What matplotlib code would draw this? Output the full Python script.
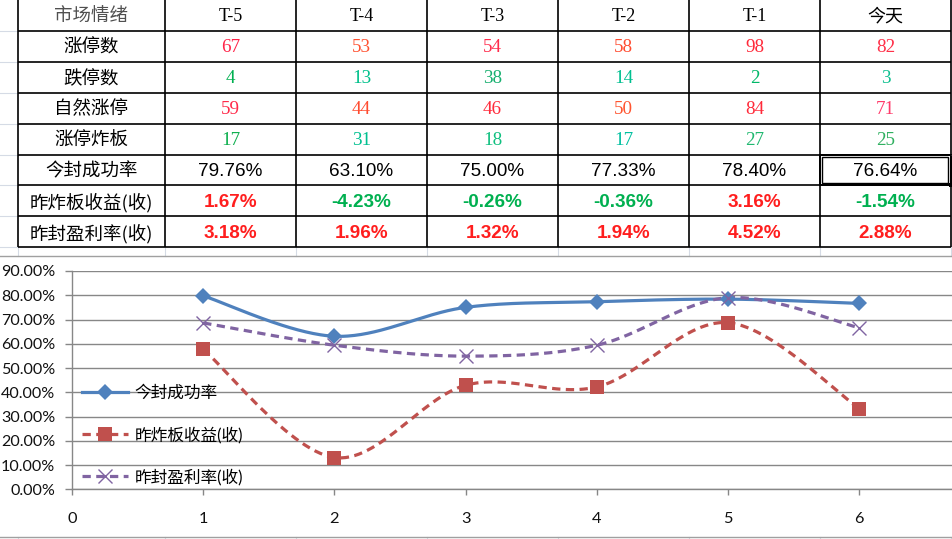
import numpy as np
import matplotlib
matplotlib.use("Agg")
import matplotlib.pyplot as plt
from matplotlib.patches import Rectangle
from matplotlib.lines import Line2D

# ---------------- data ----------------
corner_label = '市场情绪'
col_headers = ['T-5', 'T-4', 'T-3', 'T-2', 'T-1', '今天']
row_labels = ['涨停数', '跌停数', '自然涨停', '涨停炸板', '今封成功率', '昨炸板收益(收)', '昨封盈利率(收)']
limit_up = [67, 53, 54, 58, 98, 82]
limit_down = [4, 13, 38, 14, 2, 3]
natural_up = [59, 44, 46, 50, 84, 71]
broken_boards = [17, 31, 18, 17, 27, 25]
seal_rate = [79.76, 63.10, 75.00, 77.33, 78.40, 76.64]
broken_return = [1.67, -4.23, -0.26, -0.36, 3.16, -1.54]
seal_profit = [3.18, 1.96, 1.32, 1.94, 4.52, 2.88]

chart_x = [1, 2, 3, 4, 5, 6]
chart_seal_rate = [79.76, 63.10, 75.00, 77.33, 78.40, 76.64]
chart_broken_return = [57.7, 13.1, 42.9, 42.2, 68.7, 33.3]
chart_seal_profit = [68.6, 59.4, 54.9, 59.4, 79.0, 66.6]
series_names = ['今封成功率', '昨炸板收益(收)', '昨封盈利率(收)']
y_tick_values = [0, 10, 20, 30, 40, 50, 60, 70, 80, 90]
x_tick_values = [0, 1, 2, 3, 4, 5, 6]

# ---------------- styles ----------------
W, H = 953, 539
CJK = ['Noto Sans CJK SC', 'DejaVu Sans']
SERIF = ['Liberation Serif', 'Noto Sans CJK SC']
SANS = ['Liberation Sans', 'DejaVu Sans']
RED = '#ff1e1e'
GREEN = '#00b050'
red_shades_up = ['#ff2348', '#ff5232', '#ff2c4c', '#ff4c30', '#ff2a3a', '#ff3048']
red_shades_nat = ['#ff2a4a', '#ff4c30', '#ff2c3c', '#ff5530', '#ff2a3a', '#ff3a6a']
green_shades_down = ['#00b050', '#00c08a', '#18b070', '#00c090', '#00b868', '#10c090']
green_shades_brk = ['#10b050', '#00c090', '#10c080', '#00c0a0', '#20b870', '#30b060']

plt.rcParams['font.family'] = CJK

fig = plt.figure(figsize=(W / 100, H / 100), dpi=100)
bg = fig.add_axes([0, 0, 1, 1])
bg.set_xlim(0, W)
bg.set_ylim(H, 0)
bg.axis('off')

# table geometry
x0, label_w, col_w = 18, 147, 131
col_edges = [x0, x0 + label_w] + [x0 + label_w + col_w * (i + 1) for i in range(6)]
row_h = 30.9
row_edges = [row_h * i for i in range(9)]
table_bottom = row_edges[-1]

light = '#d5dbe5'
# spreadsheet faint gridlines
for y in row_edges[1:]:
    bg.plot([0, x0], [y, y], color=light, lw=0.8)
for xe in col_edges:
    bg.plot([xe, xe], [table_bottom, 256], color=light, lw=0.8)
    bg.plot([xe, xe], [537, H], color=light, lw=0.8)
bg.plot([950, W], [row_edges[5], row_edges[5]], color=light, lw=0.8)

# table grid
for y in row_edges[1:]:
    bg.plot([col_edges[0], col_edges[-1]], [y, y], color='black', lw=1.2, solid_capstyle='butt')
for xe in col_edges:
    bg.plot([xe, xe], [0, table_bottom], color='black', lw=1.2, solid_capstyle='butt')

# selection box around 今天 / 今封成功率
sx0, sx1 = col_edges[-2], col_edges[-1]
sy0, sy1 = row_edges[5], row_edges[6]
bg.add_patch(Rectangle((sx0, sy0), sx1 - sx0, sy1 - sy0, fill=False, ec='black', lw=1.4))
bg.add_patch(Rectangle((sx0 + 2.5, sy0 + 2.5), sx1 - sx0 - 5, sy1 - sy0 - 5, fill=False, ec='black', lw=1.0))
bg.add_patch(Rectangle((sx1 - 2, sy1 - 2), 4, 4, fc='black', ec='black', lw=0))

def cy(r):
    return (row_edges[r] + row_edges[r + 1]) / 2 + 1.5

label_cx = (col_edges[0] + col_edges[1]) / 2
col_cx = [(col_edges[i + 1] + col_edges[i + 2]) / 2 for i in range(6)]

# header
bg.text(label_cx, cy(0), corner_label, ha='center', va='center', fontsize=13.3,
        family=CJK, weight='light', color='#505050')
for i, h in enumerate(col_headers):
    bg.text(col_cx[i], cy(0), h, ha='center', va='center', fontsize=13,
            family=SERIF if h.startswith('T') else CJK, weight='light', color='black')

# row labels
for r, lab in enumerate(row_labels):
    bg.text(label_cx, cy(r + 1), lab, ha='center', va='center', fontsize=13.3,
            family=CJK, weight='light', color='black')

int_rows = [(limit_up, red_shades_up), (limit_down, green_shades_down),
            (natural_up, red_shades_nat), (broken_boards, green_shades_brk)]
for r, (vals, cols) in enumerate(int_rows):
    for i, v in enumerate(vals):
        bg.text(col_cx[i], cy(r + 1), f'{v}', ha='center', va='center', fontsize=13.8,
                family=SERIF, color=cols[i])

for i, v in enumerate(seal_rate):
    bg.text(col_cx[i], cy(5), f'{v:.2f}%', ha='center', va='center', fontsize=13.6,
            family=SANS, color='black')
for i, v in enumerate(broken_return):
    bg.text(col_cx[i], cy(6), f'{v:.2f}%', ha='center', va='center', fontsize=13.6,
            family=SANS, weight='bold', color=RED if v > 0 else GREEN)
for i, v in enumerate(seal_profit):
    bg.text(col_cx[i], cy(7), f'{v:.2f}%', ha='center', va='center', fontsize=13.6,
            family=SANS, weight='bold', color=RED if v > 0 else GREEN)

# chart frame
bg.plot([0, W], [256, 256], color='#a0a0a0', lw=1.0)
bg.plot([0, W], [537, 537], color='#a0a0a0', lw=1.0)

# ---------------- chart ----------------
px_left, px_bottom, px_top = 72, 489.3, 271
unit = 131.2
xmax = (W - px_left) / unit
ax = fig.add_axes([px_left / W, (H - px_bottom) / H, (W - px_left) / W, (px_bottom - px_top) / H])
ax.set_facecolor('none')
ax.set_xlim(0, xmax)
ax.set_ylim(0, 90)

grid_c = '#878787'
for spine in ['top', 'right']:
    ax.spines[spine].set_visible(False)
for spine in ['left', 'bottom']:
    ax.spines[spine].set_color(grid_c)
    ax.spines[spine].set_linewidth(1.0)
ax.yaxis.grid(True, color=grid_c, lw=1.0)
ax.set_axisbelow(True)
ax.set_yticks(y_tick_values)
ax.set_yticklabels([f'{v:.2f}%' for v in y_tick_values])
ax.set_xticks(x_tick_values)
ax.set_xticklabels([str(v) for v in x_tick_values])
ax.tick_params(axis='y', length=5, width=1.0, color=grid_c, pad=7, labelsize=11.6,
               labelcolor='#111111')
ax.tick_params(axis='x', length=4, width=1.0, color=grid_c, pad=12, labelsize=11.8,
               labelcolor='#111111')
for lab in ax.get_xticklabels() + ax.get_yticklabels():
    lab.set_family(['Lato', 'DejaVu Sans'])


def smooth(xs, ys, n=60):
    P = np.column_stack([xs, ys]).astype(float)
    ext = np.vstack([P[0], P, P[-1]])
    out = []
    for i in range(len(P) - 1):
        p0, p1, p2, p3 = ext[i], ext[i + 1], ext[i + 2], ext[i + 3]
        b1 = p1 + (p2 - p0) / 6
        b2 = p2 - (p3 - p1) / 6
        t = np.linspace(0, 1, n)[:, None]
        seg = ((1 - t) ** 3) * p1 + 3 * ((1 - t) ** 2) * t * b1 + 3 * (1 - t) * t ** 2 * b2 + t ** 3 * p2
        out.append(seg if i == 0 else seg[1:])
    s = np.vstack(out)
    return s[:, 0], s[:, 1]

series = [
    (chart_seal_rate, '#4f81bd', 'D', 8.5, '-', None),
    (chart_broken_return, '#c0504d', 's', 9.5, '--', [2.6, 1.7]),
    (chart_seal_profit, '#8064a2', 'x', 9.5, '--', [2.6, 1.7]),
]
handles = []
for (vals, c, mk, ms, ls, dashes), name in zip(series, series_names):
    sx, sy = smooth(chart_x, vals)
    ln, = ax.plot(sx, sy, color=c, lw=2.3, ls=ls, zorder=3)
    if dashes:
        ln.set_dashes(dashes)
    mew = 1.0 if mk == 'x' else 0
    ax.plot(chart_x, vals, ls='none', marker=mk, ms=ms, color=c, mec=c, mew=mew, zorder=4)
    h = Line2D([], [], color=c, lw=2.3, ls=ls, marker=mk, ms=ms, mec=c, mew=mew)
    if dashes:
        h.set_dashes(dashes)
    handles.append(h)

leg = ax.legend(handles, series_names, loc='center left',
                bbox_to_anchor=(82 / W, (H - 435) / H), bbox_transform=fig.transFigure,
                frameon=False, fontsize=12, handlelength=2.75, handletextpad=0.4,
                labelspacing=1.52, borderpad=0, borderaxespad=0)
for t in leg.get_texts():
    t.set_family(['Lato', 'Noto Sans CJK SC'])
    t.set_color('black')

fig.savefig('out.png', dpi=100)
